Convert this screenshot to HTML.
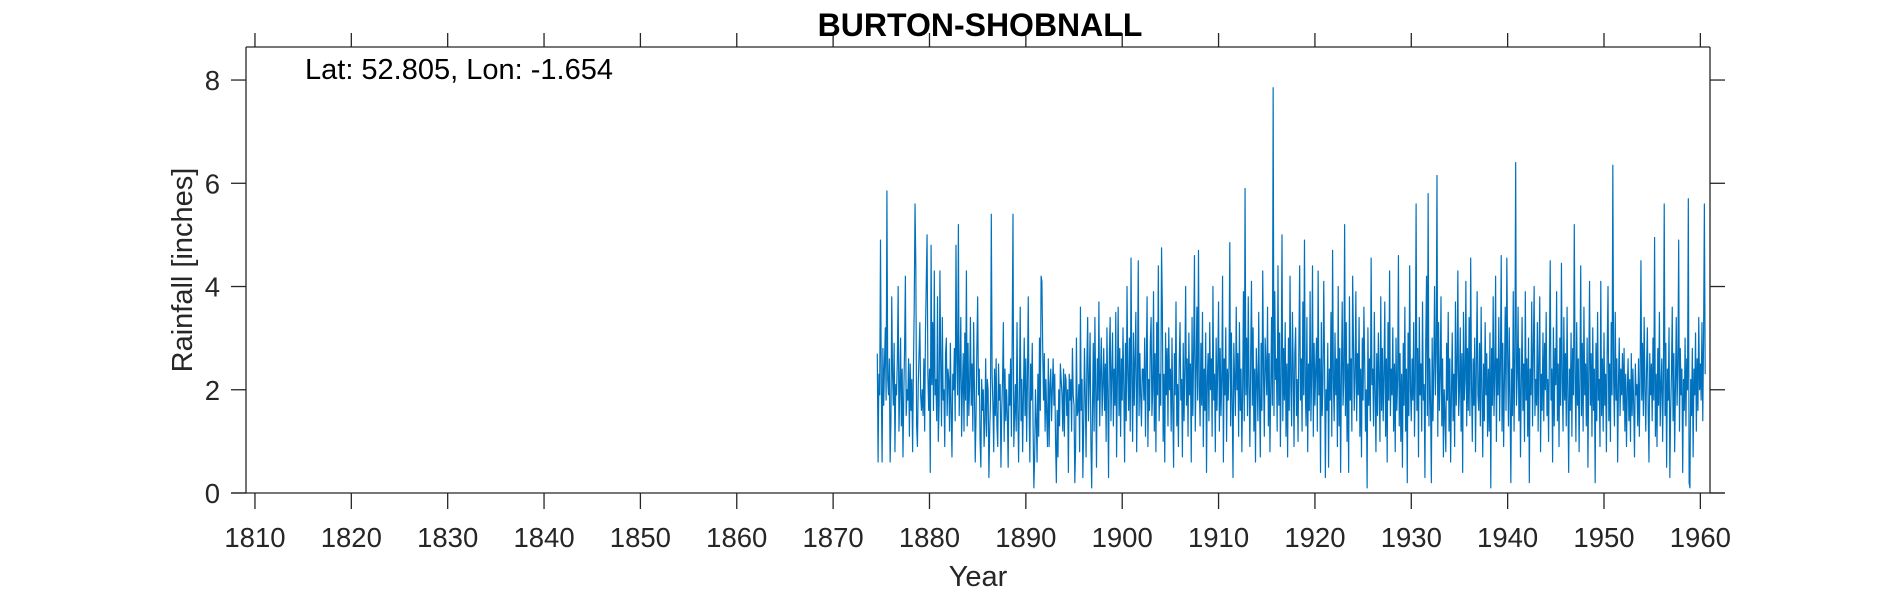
<!DOCTYPE html>
<html><head><meta charset="utf-8"><title>BURTON-SHOBNALL</title>
<style>
html,body{margin:0;padding:0;background:#fff;}
svg{display:block;font-family:"Liberation Sans",Arial,sans-serif;}
</style></head>
<body>
<svg id="chart" width="1890" height="591" viewBox="0 0 1890 591" xmlns="http://www.w3.org/2000/svg">
<rect x="0" y="0" width="1890" height="591" fill="#fff"/>
<g id="axes"></g>
<g id="series"></g>
<text x="980" y="36" text-anchor="middle" font-size="32" font-weight="bold" fill="#000">BURTON-SHOBNALL</text>
<text x="305" y="79" font-size="29" fill="#000">Lat: 52.805, Lon: -1.654</text>
<text x="978" y="586" text-anchor="middle" font-size="29" fill="#262626">Year</text>
<text x="0" y="0" transform="translate(192,270) rotate(-90)" text-anchor="middle" font-size="29" fill="#262626">Rainfall [inches]</text>
</svg>
<script>
const xTicks = [1810,1820,1830,1840,1850,1860,1870,1880,1890,1900,1910,1920,1930,1940,1950,1960];
const yTicks = [0,2,4,6,8];
const startYear = 1874.583;
const rainfall = [
2.7,0.6,2.3,1.9,4.9,
2.1,0.6,2.8,1.7,2.5,3.2,1.8,5.85,2.2,1.9,2.6,0.6,
1.4,3.8,2.3,1.7,2.9,0.8,2.1,1.9,2.6,4.0,1.2,2.0,
3.0,1.3,2.4,0.7,1.9,2.8,4.2,1.5,2.0,1.8,2.6,1.1,
2.5,1.6,2.2,0.8,2.4,3.6,5.6,4.4,1.3,0.9,2.1,2.7,
3.3,1.9,1.6,2.0,1.5,2.6,1.2,3.1,4.1,5.0,2.3,1.6,
2.4,0.4,4.8,2.1,3.3,1.6,4.3,1.9,2.2,1.4,3.8,1.0,
1.7,4.3,2.5,1.3,3.4,1.8,2.0,0.9,2.7,3.0,1.5,2.4,
2.2,1.2,2.9,1.6,0.7,2.3,2.0,2.8,1.4,4.8,2.6,1.9,
5.2,1.5,2.3,3.4,1.1,2.0,2.7,1.2,3.1,1.8,4.3,1.3,
2.9,1.5,2.1,3.4,1.7,2.5,1.2,3.3,2.0,0.6,1.5,2.8,
3.8,1.9,2.4,1.0,0.5,2.2,1.6,2.0,0.9,1.4,2.6,1.1,
2.2,2.0,0.3,1.2,1.8,5.4,2.3,1.7,0.8,2.4,1.5,2.6,
1.3,0.9,2.5,1.8,2.1,0.5,1.6,2.2,3.3,1.0,2.4,1.4,
2.0,1.5,0.5,2.3,1.7,2.6,1.1,3.0,5.4,0.9,1.5,2.1,
1.2,3.3,1.6,0.6,2.0,3.6,1.4,2.2,0.8,1.9,3.0,1.5,
2.6,1.0,2.2,3.8,1.7,0.6,2.5,1.8,2.9,1.3,0.1,0.7,
2.0,1.4,0.6,2.3,1.1,3.0,1.6,4.2,4.1,2.8,1.8,2.7,
1.2,2.2,1.5,0.9,2.6,0.9,2.1,2.4,1.4,2.0,2.6,1.7,
2.3,1.0,0.2,1.6,0.7,2.0,1.3,2.5,2.2,1.9,1.2,2.4,
1.1,2.3,2.2,1.5,2.0,0.4,2.3,1.8,2.2,1.2,2.8,1.9,
1.7,0.2,0.9,3.0,1.5,1.6,2.1,0.8,3.6,1.6,2.2,0.3,
1.3,2.8,1.9,0.7,2.5,3.4,1.4,2.2,3.1,1.0,0.1,1.6,
2.9,1.2,3.4,2.0,0.5,2.6,1.8,3.7,1.3,2.3,3.0,1.5,
2.1,2.8,1.6,2.5,1.0,3.2,1.9,0.3,2.7,3.4,1.4,2.3,
3.1,1.3,2.4,1.7,3.5,0.7,2.2,3.6,1.5,2.8,1.1,2.6,
1.8,3.2,2.0,0.6,2.9,1.4,4.0,2.3,1.6,3.0,1.2,4.55,
2.2,1.0,3.1,1.7,2.6,3.5,0.8,2.1,4.5,1.5,2.7,1.9,
1.3,2.4,2.4,1.8,3.0,1.1,2.5,3.8,0.9,2.2,1.6,2.9,
3.4,1.5,2.0,3.9,1.2,2.7,0.8,3.3,1.9,4.4,1.4,2.3,
1.7,4.75,3.6,1.0,2.3,0.6,3.1,1.9,2.8,1.3,3.2,2.0,
2.4,1.2,3.0,1.6,0.5,2.7,1.9,3.7,1.3,2.1,0.9,2.5,
3.3,1.8,2.2,0.7,2.9,1.4,2.4,4.0,1.7,2.6,1.1,3.1,
1.9,2.5,0.6,3.4,1.5,2.8,4.6,1.2,2.3,3.6,1.8,4.7,
2.1,1.3,2.9,1.7,3.5,0.9,2.4,1.6,3.1,0.4,2.2,2.7,
1.4,3.3,2.0,2.6,1.1,4.0,1.8,2.3,0.8,3.0,1.6,2.5,
3.7,1.2,2.8,1.5,2.2,4.2,0.6,2.6,1.9,3.2,1.0,2.4,
1.8,2.5,4.85,1.3,3.1,1.7,0.3,2.9,2.2,1.5,3.6,2.0,
2.7,1.1,3.3,1.6,2.4,0.8,2.0,3.9,1.4,5.9,1.9,3.0,
1.5,3.8,2.1,0.9,2.6,4.1,1.7,3.2,1.2,2.4,0.6,2.8,
2.2,1.4,3.5,1.8,0.7,2.9,1.6,4.3,2.3,1.1,3.0,2.5,
1.9,3.6,1.3,2.7,0.8,2.0,3.4,1.7,7.85,1.5,3.9,2.2,
2.6,1.2,4.4,1.7,3.1,0.9,2.3,5.0,1.4,2.8,1.8,3.3,
1.1,2.5,0.7,3.0,1.6,4.2,2.1,1.3,3.5,2.4,0.9,2.7,
3.2,1.5,2.2,1.0,2.8,4.4,1.8,2.6,1.2,3.7,1.9,4.9,
2.0,1.3,3.4,0.8,2.5,1.6,3.9,1.4,2.3,4.4,1.1,2.9,
1.7,2.4,3.0,1.2,4.3,1.9,2.6,0.4,3.3,1.5,2.1,4.1,
2.5,0.3,2.0,1.6,2.9,0.5,2.4,1.8,3.5,1.1,4.7,2.2,
1.4,3.1,1.9,2.6,0.9,4.0,1.3,2.8,0.4,2.3,3.7,1.7,
2.2,5.2,1.5,3.3,1.0,2.5,0.4,3.8,1.8,2.6,1.2,4.2,
2.9,1.6,2.3,3.9,1.4,2.7,1.9,3.4,1.1,2.4,0.7,3.0,
1.8,3.6,2.5,1.2,2.0,0.1,3.2,1.7,2.6,1.4,4.55,2.1,
2.4,1.3,3.5,1.9,0.8,2.7,1.5,3.1,2.2,1.0,3.8,1.6,
2.8,1.4,2.3,3.7,1.1,2.6,0.6,3.3,1.8,4.3,1.5,2.4,
1.9,3.2,1.2,2.5,0.8,3.0,1.6,2.2,4.6,1.3,2.7,1.0,
2.3,0.5,2.9,1.7,3.6,1.2,2.4,0.2,3.1,1.5,4.4,2.0,
1.4,2.6,1.8,3.3,1.1,2.2,5.6,1.6,2.8,0.7,3.4,1.9,
2.5,1.2,3.7,1.8,2.1,0.3,2.9,4.2,1.5,5.8,1.3,2.6,
1.7,0.2,3.0,1.4,2.4,4.0,1.9,2.7,6.15,1.1,3.3,1.6,
2.2,3.8,1.3,2.6,0.7,2.0,1.5,0.8,2.9,1.8,3.5,1.2,
2.6,0.6,1.9,3.1,1.4,2.3,0.9,3.7,1.7,2.4,4.3,1.5,
2.0,3.2,1.2,2.7,0.4,3.5,1.8,2.2,4.1,1.3,2.8,1.6,
3.4,1.5,4.55,2.1,1.0,2.6,1.7,3.0,0.8,2.4,3.9,1.9,
1.6,2.9,1.3,3.6,2.0,0.7,2.5,1.4,3.3,1.9,2.7,1.1,
2.4,1.2,3.1,0.1,2.8,1.7,3.8,1.5,2.3,4.2,1.0,2.6,
1.9,3.4,1.4,2.5,4.6,1.2,2.9,0.9,2.2,3.6,1.6,4.55,
2.7,1.3,3.2,1.8,0.2,2.4,1.5,3.9,1.2,2.6,6.4,1.7,
2.3,3.6,1.4,2.8,0.7,2.1,3.4,1.6,2.5,1.0,3.9,1.8,
2.6,1.1,3.0,0.2,2.4,1.9,3.7,1.3,2.8,4.0,1.5,2.2,
1.7,3.3,1.2,2.6,3.8,0.8,2.3,1.6,3.1,1.4,2.9,2.0,
3.5,1.5,2.2,1.0,2.7,4.5,1.8,2.4,0.6,3.2,1.3,2.8,
2.1,3.9,1.4,2.5,0.9,3.0,1.7,4.45,2.2,1.2,3.4,1.8,
2.7,1.3,3.6,1.9,0.4,2.4,1.6,3.1,1.1,2.8,1.9,5.2,
2.3,1.0,3.3,1.7,2.6,0.8,2.2,4.4,1.5,2.9,1.2,3.6,
1.9,2.5,1.3,3.0,0.5,2.3,4.1,1.7,2.7,1.1,3.2,1.6,
2.4,0.2,2.9,1.4,3.5,1.8,2.2,0.9,4.1,1.5,2.6,1.2,
3.1,1.7,2.3,0.8,2.8,4.0,1.4,2.5,1.0,3.3,1.9,6.35,
2.2,1.3,3.5,1.8,2.6,0.6,2.1,3.0,1.5,2.4,1.9,2.7,
1.6,2.8,1.2,2.3,0.9,2.0,2.6,1.4,2.2,1.0,2.7,1.5,
2.4,1.7,0.7,2.5,1.9,2.1,1.3,2.6,1.1,2.3,4.5,1.8,
2.9,1.5,3.4,2.0,1.2,2.4,3.2,1.6,0.6,2.7,1.9,2.5,
1.4,3.0,1.8,4.95,1.1,2.3,0.9,2.8,1.7,3.5,1.3,2.1,
2.6,1.0,2.2,5.6,1.5,2.9,0.5,2.4,1.8,3.2,0.3,1.6,
2.3,3.6,1.4,2.7,0.8,2.1,3.4,1.7,2.5,4.9,1.2,2.8,
1.9,2.4,0.4,2.2,1.6,3.0,1.3,2.6,2.0,5.7,0.2,0.1,
2.2,1.5,2.8,0.7,2.4,1.9,3.1,1.2,2.6,1.6,3.4,2.0,
2.5,1.8,3.3,1.4,3.0,5.6,2.3
];

const L = 246, R = 1710, T = 47, B = 493;
const xMin = 1809.07, xMax = 1961.0, yMin = 0, yMax = 8.64;
function xs(v){ return L + (v - xMin) / (xMax - xMin) * (R - L); }
function ys(v){ return B - (v - yMin) / (yMax - yMin) * (B - T); }

const NS = "http://www.w3.org/2000/svg";
const axes = document.getElementById('axes');
const series = document.getElementById('series');
function mk(tag, attrs, parent){
  const e = document.createElementNS(NS, tag);
  for (const k in attrs) e.setAttribute(k, attrs[k]);
  parent.appendChild(e);
  return e;
}
const ax = '#262626';

const pts = [];
for (let i = 0; i < rainfall.length; i++) {
  const t = startYear + i / 12;
  pts.push(xs(t).toFixed(2) + ',' + ys(rainfall[i]).toFixed(2));
}
const line = mk('polyline', {points: pts.join(' '), fill: 'none', stroke: '#0072BD', 'stroke-width': 1.2, 'stroke-linejoin': 'round'}, series);



const yAxis = mk('line', {x1: L, y1: T, x2: L, y2: B, stroke: ax, 'stroke-width': 1.3}, axes);


const xAxis = mk('line', {x1: 231, y1: B, x2: 1725, y2: B, stroke: ax, 'stroke-width': 1.3}, axes);


const topLine = mk('line', {x1: L, y1: T, x2: R, y2: T, stroke: ax, 'stroke-width': 1.3}, axes);


const rightLine = mk('line', {x1: R, y1: T, x2: R, y2: B, stroke: ax, 'stroke-width': 1.3}, axes);



for (const v of xTicks) {
  const x = xs(v);
  const tb = mk('line', {x1: x, y1: B, x2: x, y2: B + 16, stroke: ax, 'stroke-width': 1.3}, axes);
  
  
  const tt = mk('line', {x1: x, y1: T, x2: x, y2: T - 14, stroke: ax, 'stroke-width': 1.3}, axes);
  
  
  const lb = mk('text', {x: x, y: 547, 'text-anchor': 'middle', 'font-size': 27.5, fill: ax}, axes);
  lb.textContent = String(v);
  
  
}
for (const v of yTicks) {
  const y = ys(v);
  const tl = mk('line', {x1: 231, y1: y, x2: L, y2: y, stroke: ax, 'stroke-width': 1.3}, axes);
  
  
  const tr = mk('line', {x1: R, y1: y, x2: 1725, y2: y, stroke: ax, 'stroke-width': 1.3}, axes);
  
  
  const lb = mk('text', {x: 220, y: y + 10, 'text-anchor': 'end', 'font-size': 27.5, fill: ax}, axes);
  lb.textContent = String(v);
  
  
}
</script>
</body></html>
